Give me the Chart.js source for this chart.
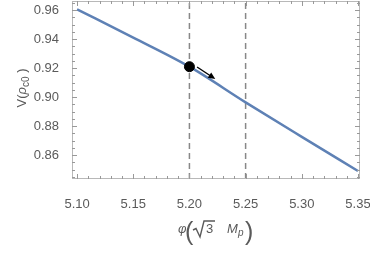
<!DOCTYPE html>
<html><head><meta charset="utf-8">
<script src="https://cdn.jsdelivr.net/npm/chart.js@4"></script>
<style>html,body{margin:0;padding:0;background:#fff}#wrap{width:370px;height:259px}</style>
</head><body><div id="wrap"><canvas id="c" width="370" height="259"></canvas></div>
<script>
// ---- data ----
const phi = [5.10, 5.15, 5.20, 5.25, 5.30, 5.35];
const V   = [0.9605, 0.9410, 0.9209, 0.8963, 0.8725, 0.8490];
const xTicks = [5.10, 5.15, 5.20, 5.25, 5.30, 5.35];
const yTicks = [0.86, 0.88, 0.90, 0.92, 0.94, 0.96];
const dashedX = [5.20, 5.25];
const dotPoint = [5.20, 0.9209];
const arrowFrom = [5.2068, 0.9207];
const arrowTo = [5.2230, 0.9124];
const xRange = [5.0955, 5.3518];
const yRange = [0.84345, 0.96621];

const gray = '#5a5a5a';
const frameColor = '#b8b8b8';
const FONT = 'Liberation Sans, Arial, sans-serif';

const framePlugin = {
  id: 'frame',
  afterDatasetsDraw(chart) {
    const ctx = chart.ctx;
    const xs = chart.scales.x, ys = chart.scales.y;
    ctx.save();
    const x1 = xs.getPixelForValue(arrowFrom[0]), y1 = ys.getPixelForValue(arrowFrom[1]);
    const x2 = xs.getPixelForValue(arrowTo[0]), y2 = ys.getPixelForValue(arrowTo[1]);
    const ang = Math.atan2(y2 - y1, x2 - x1);
    ctx.strokeStyle = '#000'; ctx.fillStyle = '#000'; ctx.lineWidth = 1.4;
    ctx.beginPath(); ctx.moveTo(x1, y1); ctx.lineTo(x2 - 5*Math.cos(ang), y2 - 5*Math.sin(ang)); ctx.stroke();
    ctx.beginPath();
    ctx.moveTo(x2, y2);
    ctx.lineTo(x2 - 7*Math.cos(ang) + 3.2*Math.sin(ang), y2 - 7*Math.sin(ang) - 3.2*Math.cos(ang));
    ctx.lineTo(x2 - 7*Math.cos(ang) - 3.2*Math.sin(ang), y2 - 7*Math.sin(ang) + 3.2*Math.cos(ang));
    ctx.closePath(); ctx.fill();
    ctx.restore();
  },
  afterDraw(chart) {
    const ctx = chart.ctx, a = chart.chartArea;
    const xs = chart.scales.x, ys = chart.scales.y;
    ctx.save();
    ctx.strokeStyle = frameColor; ctx.lineWidth = 1;
    ctx.strokeRect(Math.round(a.left)+0.5, Math.round(a.top)+0.5, Math.round(a.right-a.left)-1, Math.round(a.bottom-a.top)-1);
    ctx.strokeStyle = '#999';
    for (let i = 0; i < xTicks.length; i++) {
      for (let k = 0; k < 5; k++) {
        if (i === xTicks.length - 1 && k > 0) break;
        const v = xTicks[i] + k * 0.01;
        const px = Math.round(xs.getPixelForValue(v)) + 0.5;
        const len = k === 0 ? 5 : 3;
        ctx.beginPath();
        ctx.moveTo(px, a.bottom); ctx.lineTo(px, a.bottom - len);
        ctx.moveTo(px, a.top); ctx.lineTo(px, a.top + len);
        ctx.stroke();
      }
    }
    const ySteps = [yTicks[0] - 0.02, ...yTicks];
    for (let i = 0; i < ySteps.length; i++) {
      for (let k = 0; k < 4; k++) {
        const v = ySteps[i] + k * 0.005;
        if (v < yRange[0] || v > yRange[1]) continue;
        const py = Math.round(ys.getPixelForValue(v)) + 0.5;
        const len = k === 0 ? 5 : 3;
        ctx.beginPath();
        ctx.moveTo(a.left, py); ctx.lineTo(a.left + len, py);
        ctx.moveTo(a.right, py); ctx.lineTo(a.right - len, py);
        ctx.stroke();
      }
    }
    // y-axis title V(ρc0)
    ctx.fillStyle = gray;
    ctx.translate(26, 88);
    ctx.rotate(-Math.PI/2);
    ctx.textBaseline = 'alphabetic';
    const parts = [['V', '13px '+FONT, 0], ['(', '13px '+FONT, 0], ['ρ', 'italic 13px '+FONT, 0], ['c0', '10px '+FONT, 3], [' )', '13px '+FONT, 0]];
    let w = 0;
    parts.forEach(p => { ctx.font = p[1]; w += ctx.measureText(p[0]).width; });
    let cx = -w/2;
    parts.forEach(p => { ctx.font = p[1]; ctx.fillText(p[0], cx, p[2]); cx += ctx.measureText(p[0]).width; });
    ctx.setTransform(1,0,0,1,0,0);
    // x-axis title φ(√3 Mp)
    const base = 233;
    ctx.font = 'italic 13px ' + FONT; ctx.fillText('φ', 178, base);
    ctx.font = '25px ' + FONT; ctx.fillText('(', 185, base + 7);
    ctx.strokeStyle = gray; ctx.lineWidth = 1.4;
    ctx.beginPath();
    ctx.moveTo(193, 230); ctx.lineTo(196, 228.5); ctx.lineTo(200, 237); ctx.lineTo(204, 221); ctx.lineTo(215, 221);
    ctx.stroke();
    ctx.font = '13px ' + FONT; ctx.fillText('3', 206, base);
    ctx.font = 'italic 13px ' + FONT; ctx.fillText('M', 227, base);
    ctx.font = 'italic 10px ' + FONT; ctx.fillText('p', 238, base + 3);
    ctx.font = '25px ' + FONT; ctx.fillText(')', 245, base + 7);
    ctx.restore();
  }
};

new Chart(document.getElementById('c'), {
  type: 'scatter',
  data: {
    datasets: [
      { data: [{x: dashedX[0], y: yRange[0]}, {x: dashedX[0], y: yRange[1]}], order: 3,
        showLine: true, borderColor: '#888', borderWidth: 1.5, borderDash: [6, 4], pointRadius: 0 },
      { data: [{x: dashedX[1], y: yRange[0]}, {x: dashedX[1], y: yRange[1]}], order: 3,
        showLine: true, borderColor: '#888', borderWidth: 1.5, borderDash: [6, 4], pointRadius: 0 },
      { data: phi.map((x, i) => ({x, y: V[i]})), order: 2, showLine: true, borderColor: '#5E81B5',
        borderWidth: 2.5, pointRadius: 0, cubicInterpolationMode: 'monotone' },
      { data: [{x: dotPoint[0], y: dotPoint[1]}], order: 1, pointRadius: 5, pointBackgroundColor: '#000',
        pointBorderColor: '#000', showLine: false }
    ]
  },
  options: {
    responsive: false, animation: false, devicePixelRatio: 1,
    layout: { autoPadding: false, padding: { left: 0, top: 1, right: 10, bottom: 0 } },
    plugins: { legend: { display: false }, tooltip: { enabled: false } },
    scales: {
      x: {
        type: 'linear', min: xRange[0], max: xRange[1],
        grid: { display: false }, border: { display: false },
        afterBuildTicks: s => { s.ticks = xTicks.map(v => ({ value: v })); },
        afterFit: s => { s.height = 80; s.paddingLeft = 0; s.paddingRight = 0; },
        ticks: { color: gray, font: { size: 13, family: FONT }, padding: 10,
                 maxRotation: 0, callback: v => v.toFixed(2) }
      },
      y: {
        type: 'linear', min: yRange[0], max: yRange[1],
        grid: { display: false }, border: { display: false },
        afterBuildTicks: s => { s.ticks = yTicks.map(v => ({ value: v })); },
        afterFit: s => { s.width = 72; s.paddingTop = 0; s.paddingBottom = 0; },
        ticks: { color: gray, font: { size: 13, family: FONT }, padding: 5,
                 callback: v => v.toFixed(2) }
      }
    }
  },
  plugins: [framePlugin]
});
</script></body></html>
